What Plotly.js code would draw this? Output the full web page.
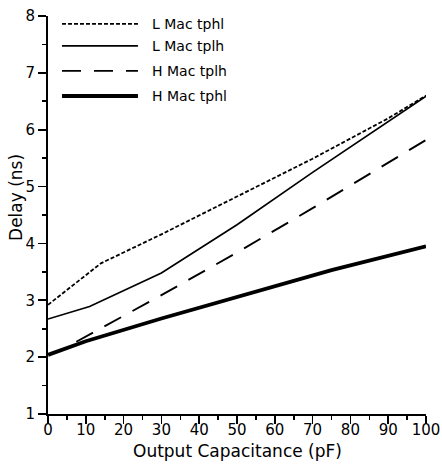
<!DOCTYPE html>
<html>
<head>
<meta charset="utf-8">
<script src="https://cdn.plot.ly/plotly-3.0.1.min.js"></script>
<style>html,body{margin:0;padding:0;background:#fff}#chart{width:442px;height:475px}</style>
</head>
<body>
<div id="chart"></div>
<script>
// Series names
const seriesNames = ["L Mac tphl", "L Mac tplh", "H Mac tplh", "H Mac tphl"];

// L Mac tphl (short dashed)
const lTphlX = [0, 14, 30, 50, 70, 90, 100];
const lTphlY = [2.92, 3.65, 4.16, 4.82, 5.49, 6.20, 6.60];

// L Mac tplh (thin solid)
const lTplhX = [0, 11, 30, 50, 70, 90, 100];
const lTplhY = [2.67, 2.89, 3.48, 4.33, 5.25, 6.14, 6.59];

// H Mac tplh (long dashed)
const hTplhX = [7.5, 30, 50, 70, 100];
const hTplhY = [2.27, 3.09, 3.84, 4.62, 5.82];

// H Mac tphl (thick solid)
const hTphlX = [0, 10, 30, 50, 75, 100];
const hTphlY = [2.04, 2.28, 2.68, 3.06, 3.53, 3.95];

// Axis ticks and titles
const xTicks = [0, 10, 20, 30, 40, 50, 60, 70, 80, 90, 100];
const yTicks = [1, 2, 3, 4, 5, 6, 7, 8];
const xTitle = "Output Capacitance (pF)";
const yTitle = "Delay (ns)";

const styles = [
  {dash: "4px,2px", width: 1.8},
  {dash: "solid", width: 1.7},
  {dash: "19px,13px", width: 1.9},
  {dash: "solid", width: 3.8}
];

const xs = [lTphlX, lTplhX, hTplhX, hTphlX];
const ys = [lTphlY, lTplhY, hTplhY, hTphlY];

const traces = seriesNames.map((n, i) => ({
  x: xs[i], y: ys[i], name: n, type: "scatter", mode: "lines",
  line: {color: "#000", width: styles[i].width, dash: styles[i].dash},
  showlegend: false
}));

// custom legend (long line samples as in the original)
const legY = [0.98, 0.925, 0.862, 0.799];
const shapes = [];
const annotations = [];
seriesNames.forEach((n, i) => {
  shapes.push({type: "line", xref: "paper", yref: "paper",
    x0: 0.037, x1: 0.238, y0: legY[i], y1: legY[i],
    line: {color: "#000", width: styles[i].width, dash: styles[i].dash}});
  annotations.push({xref: "paper", yref: "paper", x: 0.27, y: legY[i],
    xanchor: "left", yanchor: "middle", text: n, showarrow: false,
    font: {family: "DejaVu Sans", size: 14, color: "#000"}});
});

// axis titles placed as in the original
annotations.push({xref: "paper", yref: "paper", x: -0.085, y: 0.545,
  xanchor: "center", yanchor: "middle", textangle: -90, text: yTitle,
  showarrow: false, font: {family: "DejaVu Sans", size: 17, color: "#000"}});
annotations.push({xref: "paper", yref: "paper", x: 0.5, y: -0.092,
  xanchor: "center", yanchor: "middle", text: xTitle,
  showarrow: false, font: {family: "DejaVu Sans", size: 17, color: "#000"}});

const layout = {
  width: 442, height: 475,
  margin: {l: 48, r: 16, t: 16, b: 61},
  paper_bgcolor: "#fff", plot_bgcolor: "#fff",
  font: {family: "DejaVu Sans", color: "#000"},
  xaxis: {
    range: [0, 100], tickvals: xTicks, ticktext: xTicks.map(String),
    showgrid: false, zeroline: false, showline: true, linecolor: "#000", linewidth: 2,
    ticks: "outside", ticklen: 8, tickwidth: 1.6, tickcolor: "#000",
    minor: {dtick: 5, tick0: 0, ticks: "outside", ticklen: 4, tickwidth: 1.6, tickcolor: "#000"},
    tickfont: {family: "DejaVu Sans", size: 15, color: "#000"},
    ticklabelstandoff: -7
  },
  yaxis: {
    range: [1, 8], tickvals: yTicks, ticktext: yTicks.map(String),
    showgrid: false, zeroline: false, showline: true, linecolor: "#000", linewidth: 2,
    ticks: "outside", ticklen: 8, tickwidth: 1.6, tickcolor: "#000",
    minor: {dtick: 0.5, tick0: 1, ticks: "outside", ticklen: 4, tickwidth: 1.6, tickcolor: "#000"},
    tickfont: {family: "DejaVu Sans", size: 15, color: "#000"}
  },
  shapes: shapes,
  annotations: annotations
};

Plotly.newPlot("chart", traces, layout, {staticPlot: true, displayModeBar: false});
</script>
</body>
</html>
